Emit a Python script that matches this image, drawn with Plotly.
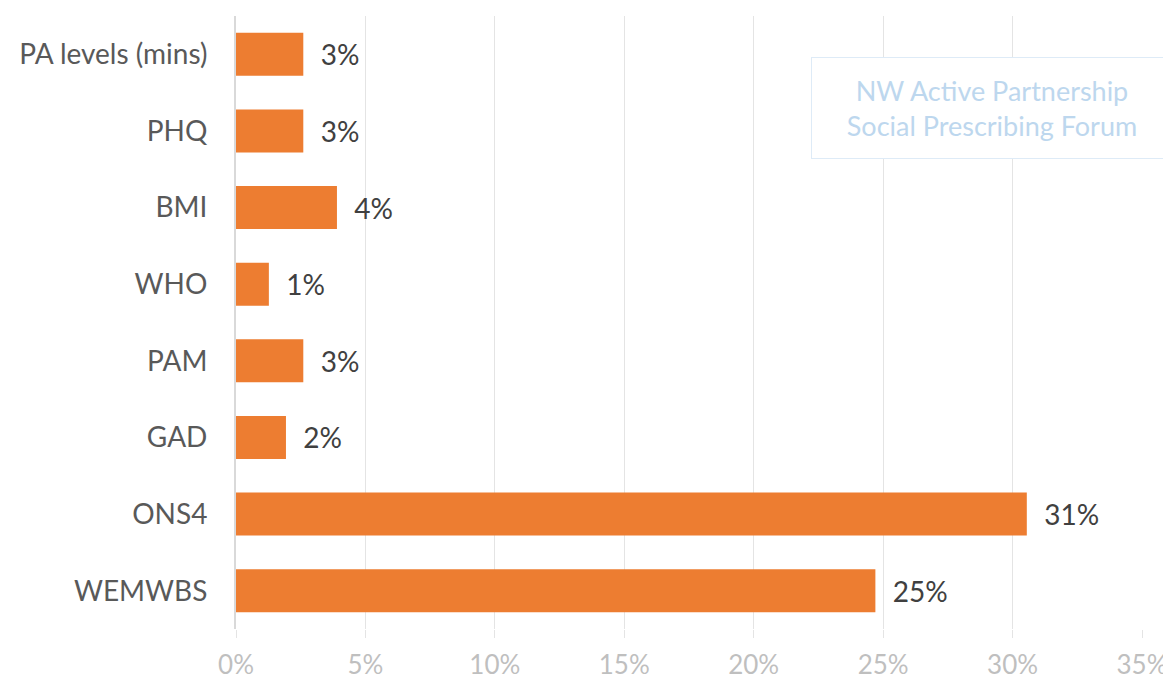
import plotly.graph_objects as go

categories = ["PA levels (mins)", "PHQ", "BMI", "WHO", "PAM", "GAD", "ONS4", "WEMWBS"]
values = [0.026, 0.026, 0.039, 0.0127, 0.026, 0.0193, 0.3055, 0.247]
watermark = "NW Active Partnership<br>Social Prescribing Forum"

FONT = "Lato, 'Open Sans', sans-serif"

# page has an 8px body margin, so the figure is sized to fit the window
W, H = 1163, 671
L, R, T, B = 228, 29, 8, 50

fig = go.Figure(go.Bar(
    y=categories, x=values, orientation="h",
    marker=dict(color="#ED7D31", line=dict(width=0)),
    texttemplate="  %{x:.0%}", textposition="outside",
    textfont=dict(family=FONT, size=28, color="#404040"),
    cliponaxis=False, width=0.56,
))

fig.update_layout(
    width=W, height=H,
    margin=dict(l=L, r=R, t=T, b=B),
    paper_bgcolor="white", plot_bgcolor="white",
    showlegend=False,
    font=dict(family=FONT),
    xaxis=dict(range=[0, 0.35], dtick=0.05, tickformat=".0%",
               showgrid=True, gridcolor="#E4E4E4", gridwidth=1,
               zeroline=False, showline=False, automargin=False,
               ticks="outside", ticklen=8, tickcolor="#E4E4E4",
               tickfont=dict(size=26, color="#BFBFBF"),
               ticklabelstandoff=5, ticklabeloverflow="allow"),
    yaxis=dict(autorange="reversed", showgrid=False, zeroline=False,
               showline=True, linecolor="#D9D9D9", linewidth=2,
               automargin=False,
               ticks="", tickfont=dict(size=28, color="#595959"),
               ticklabelstandoff=21),
    annotations=[dict(
        text=watermark, xref="paper", yref="paper",
        x=(983.5 - L) / (W - L - R), y=(H - B - 100) / (H - T - B),
        xanchor="center", yanchor="middle", showarrow=False,
        font=dict(family=FONT, size=27, color="#BDD7EE"),
        bordercolor="#DEEBF7", borderwidth=1, borderpad=2,
        width=356, height=96, bgcolor="white",
    )],
)

fig.write_html("out.html")
